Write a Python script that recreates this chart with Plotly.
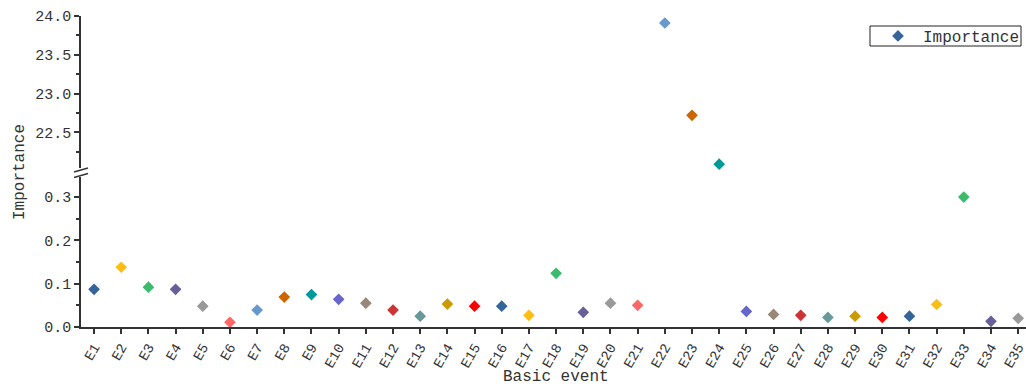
import plotly.graph_objects as go

events = [f"E{i}" for i in range(1, 36)]
importance = [0.087, 0.138, 0.092, 0.087, 0.048, 0.011, 0.039, 0.069, 0.075, 0.064,
              0.055, 0.039, 0.025, 0.053, 0.048, 0.048, 0.027, 0.124, 0.034, 0.055,
              0.050, 23.91, 22.72, 22.09, 0.036, 0.029, 0.027, 0.022, 0.025, 0.022,
              0.025, 0.052, 0.300, 0.013, 0.020]
palette = ["#35649A", "#FDBE13", "#3DBB6C", "#675E9A", "#999999", "#FF6666", "#6699CC",
           "#CC6600", "#009999", "#6666CC", "#998877", "#CC3333", "#669999", "#CC9900",
           "#FF0000"]
colors = [palette[i % len(palette)] for i in range(len(events))]
xs = list(range(1, len(events) + 1))

W, H = 1026, 387
FONT = "Liberation Mono"
top_px, bot_px = 16, 327
ph = bot_px - top_px
lower_top_px = 177
upper_bot_px = 168
lower_dom = [0, (bot_px - lower_top_px) / ph]
upper_dom = [(bot_px - upper_bot_px) / ph, 1]
lower_range = [0, (bot_px - lower_top_px) / 433.0]
upper_range = [24.0 - (upper_bot_px - top_px) / 77.6, 24.0]

low_x = [x for x, v in zip(xs, importance) if v < 1]
low_y = [v for v in importance if v < 1]
low_c = [c for c, v in zip(colors, importance) if v < 1]
up_x = [x for x, v in zip(xs, importance) if v >= 1]
up_y = [v for v in importance if v >= 1]
up_c = [c for c, v in zip(colors, importance) if v >= 1]

fig = go.Figure()
fig.add_trace(go.Scatter(x=low_x, y=low_y, mode="markers", name="Importance",
                         marker=dict(symbol="diamond", size=9, color=low_c),
                         xaxis="x", yaxis="y", showlegend=False, cliponaxis=False))
fig.add_trace(go.Scatter(x=up_x, y=up_y, mode="markers", name="Importance",
                         marker=dict(symbol="diamond", size=9, color=up_c),
                         xaxis="x2", yaxis="y2", showlegend=False, cliponaxis=False))
# legend entry
fig.add_trace(go.Scatter(x=[None], y=[None], mode="markers", name="Importance",
                         marker=dict(symbol="diamond", size=9, color=palette[0]),
                         xaxis="x2", yaxis="y2", showlegend=True))

left_px = 81
x0 = 0.52
x1 = x0 + (W - left_px) / 27.18
axis_common = dict(showline=True, linecolor="#333333", linewidth=1.5, ticks="outside",
                   tickcolor="#333333", ticklen=5, tickwidth=1.5, showgrid=False,
                   zeroline=False, mirror=False, automargin=False)
yfont = dict(family=FONT, size=15, color="#333333")

def px_to_paper(xp, yp):
    return (xp - left_px) / (W - left_px), (bot_px - yp) / ph

lx, ly = px_to_paper(873, 36)

fig.update_layout(
    width=W, height=H,
    margin=dict(l=left_px, r=0, t=top_px, b=H - bot_px, autoexpand=False),
    paper_bgcolor="white", plot_bgcolor="white",
    xaxis=dict(**axis_common,
               tickfont=dict(family=FONT, size=14, color="#333333"),
               ticklabeloverflow="allow",
               range=[x0, x1], tickmode="array", tickvals=xs,
               ticktext=events, tickangle=-60, anchor="y", domain=[0, 1]),
    xaxis2=dict(range=[x0, x1], showline=False, showticklabels=False, ticks="",
                showgrid=False, zeroline=False, anchor="y2", matches="x", domain=[0, 1],
                automargin=False),
    yaxis=dict(**axis_common, tickfont=yfont, domain=lower_dom, range=lower_range,
               tickvals=[0.0, 0.1, 0.2, 0.3], ticktext=["0.0", "0.1", "0.2", "0.3"],
               minor=dict(tickvals=[0.05, 0.15, 0.25], ticks="outside", ticklen=3,
                          tickcolor="#333333", tickwidth=1.5),
               anchor="x"),
    yaxis2=dict(**axis_common, tickfont=yfont, domain=upper_dom, range=upper_range,
                tickvals=[22.5, 23.0, 23.5, 24.0], ticktext=["22.5", "23.0", "23.5", "24.0"],
                minor=dict(tickvals=[22.25, 22.75, 23.25, 23.75], ticks="outside", ticklen=3,
                           tickcolor="#333333", tickwidth=1.5),
                anchor="x2"),
    legend=dict(x=lx, y=ly, xanchor="left", yanchor="middle", borderwidth=0,
                bgcolor="rgba(0,0,0,0)", font=dict(family=FONT, size=16, color="#333333"),
                itemwidth=40, tracegroupgap=0),
    showlegend=True,
)

shapes = []
for dy in (0, 5.5):
    ax, ay = px_to_paper(74, 172 + dy)
    bx, by = px_to_paper(88, 168 + dy)
    shapes.append(dict(type="line", xref="paper", yref="paper", x0=ax, y0=ay, x1=bx, y1=by,
                       line=dict(color="#333333", width=1.5)))
bx0, by0 = px_to_paper(870, 46)
bx1, by1 = px_to_paper(1021, 26)
shapes.append(dict(type="rect", xref="paper", yref="paper", x0=bx0, y0=by0, x1=bx1, y1=by1,
                   line=dict(color="#222222", width=1), fillcolor="rgba(0,0,0,0)", layer="below"))
fig.update_layout(shapes=shapes)

fig.add_annotation(text="Importance", xref="paper", yref="paper",
                   x=(20 - left_px) / (W - left_px), y=(bot_px - 172) / ph,
                   textangle=-90, showarrow=False, xanchor="center", yanchor="middle",
                   font=dict(family=FONT, size=16, color="#333333"))
fig.add_annotation(text="Basic event", xref="paper", yref="paper",
                   x=(556 - left_px) / (W - left_px), y=(bot_px - 377) / ph,
                   showarrow=False, xanchor="center", yanchor="middle",
                   font=dict(family=FONT, size=16, color="#333333"))

fig.write_html("out.html", config={"displayModeBar": False},
               post_script="document.body.style.margin='0';document.body.style.overflow='hidden';")
